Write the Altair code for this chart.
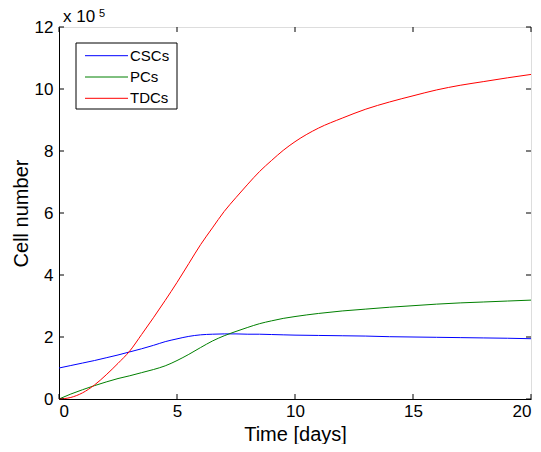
import altair as alt
import pandas as pd

days = [0, 0.5, 1, 1.5, 2, 2.5, 3, 3.5, 4, 4.5, 5, 5.5, 6, 6.5, 7, 7.5, 8,
        8.5, 9, 9.5, 10, 11, 12, 13, 14, 15, 16, 17, 18, 19, 20]
cscs = [1.00, 1.08, 1.16, 1.24, 1.33, 1.42, 1.52, 1.62, 1.73, 1.85, 1.94,
        2.02, 2.07, 2.09, 2.10, 2.10, 2.09, 2.09, 2.08, 2.07, 2.06, 2.05,
        2.04, 2.03, 2.01, 2.00, 1.99, 1.98, 1.97, 1.96, 1.945]
pcs = [0.00, 0.16, 0.30, 0.43, 0.55, 0.66, 0.75, 0.85, 0.95, 1.07, 1.24,
       1.44, 1.66, 1.87, 2.04, 2.18, 2.31, 2.43, 2.52, 2.60, 2.66, 2.76,
       2.84, 2.90, 2.96, 3.01, 3.06, 3.10, 3.13, 3.16, 3.19]
tdcs = [0.00, 0.05, 0.20, 0.45, 0.78, 1.15, 1.55, 2.08, 2.62, 3.18, 3.76,
        4.37, 4.98, 5.52, 6.05, 6.50, 6.93, 7.34, 7.69, 8.02, 8.30, 8.74,
        9.06, 9.35, 9.58, 9.78, 9.97, 10.12, 10.24, 10.36, 10.47]
series = ["CSCs", "PCs", "TDCs"]
colors = ["#0000ff", "#008000", "#ff0000"]
x_ticks = [0, 5, 10, 15, 20]
y_ticks = [0, 2, 4, 6, 8, 10, 12]

W, H = 472, 372
FONT = "Liberation Sans"

rows = []
for name, vals in zip(series, [cscs, pcs, tdcs]):
    for d, v in zip(days, vals):
        rows.append({"day": d, "value": v, "series": name})
df = pd.DataFrame(rows)

xs = alt.Scale(domain=[0, 20], nice=False, zero=False)
ys = alt.Scale(domain=[0, 12], nice=False, zero=False)

lines = alt.Chart(df).mark_line(strokeWidth=1, interpolate="monotone").encode(
    x=alt.X("day:Q", scale=xs,
            axis=alt.Axis(values=x_ticks, title="Time [days]", grid=False,
                          tickSize=0, labelFontSize=17, labelPadding=4,
                          titleFontSize=20, titleFontWeight="normal",
                          titleBaseline="alphabetic", titleY=41,
                          domainColor="black",
                          labelColor="black", titleColor="black",
                          labelFont=FONT, titleFont=FONT)),
    y=alt.Y("value:Q", scale=ys,
            axis=alt.Axis(values=y_ticks, title="Cell number", grid=False,
                          tickSize=0, labelFontSize=17, labelPadding=6,
                          titleFontSize=20, titleFontWeight="normal",
                          titlePadding=3, domainColor="black",
                          labelColor="black", titleColor="black",
                          labelFont=FONT, titleFont=FONT)),
    color=alt.Color("series:N", scale=alt.Scale(domain=series, range=colors),
                    legend=None),
)

xt = pd.DataFrame({"t": x_ticks})
yt = pd.DataFrame({"t": y_ticks})
tick_layers = [
    alt.Chart(xt).mark_rule(color="black", strokeWidth=1).encode(
        x=alt.X("t:Q", scale=xs), y=alt.value(H), y2=alt.value(H - 5)),
    alt.Chart(xt).mark_rule(color="black", strokeWidth=1).encode(
        x=alt.X("t:Q", scale=xs), y=alt.value(0), y2=alt.value(5)),
    alt.Chart(yt).mark_rule(color="black", strokeWidth=1).encode(
        y=alt.Y("t:Q", scale=ys), x=alt.value(0), x2=alt.value(5)),
    alt.Chart(yt).mark_rule(color="black", strokeWidth=1).encode(
        y=alt.Y("t:Q", scale=ys), x=alt.value(W), x2=alt.value(W - 5)),
]

# Legend (drawn manually, MATLAB style)
leg_df = pd.DataFrame({"series": series, "color": colors})
legend_box = alt.Chart(leg_df.head(1)).mark_rect(
    fill="white", stroke="black", strokeWidth=1).encode(
    x=alt.value(17), x2=alt.value(118), y=alt.value(16), y2=alt.value(82))
legend_layers = [legend_box]
for i, (name, col) in enumerate(zip(series, colors)):
    sub = leg_df[leg_df.series == name]
    yy = 28.7 + 21.3 * i
    legend_layers.append(alt.Chart(sub).mark_rule(color=col, strokeWidth=1).encode(
        x=alt.value(26), x2=alt.value(69), y=alt.value(yy)))
    legend_layers.append(alt.Chart(sub).mark_text(
        align="left", baseline="middle", font=FONT, fontSize=15,
        color="black").encode(
        x=alt.value(71), y=alt.value(yy), text="series:N"))

ann = pd.DataFrame({"a": ["x 10"], "b": ["5"]})
exp_layers = [
    alt.Chart(ann).mark_text(align="left", baseline="alphabetic", font=FONT,
                             fontSize=17, color="black").encode(
        x=alt.value(4), y=alt.value(-5), text="a:N"),
    alt.Chart(ann).mark_text(align="left", baseline="alphabetic", font=FONT,
                             fontSize=11, color="black").encode(
        x=alt.value(40), y=alt.value(-10.5), text="b:N"),
]

chart = alt.layer(lines, *tick_layers, *legend_layers, *exp_layers).properties(
    width=W, height=H,
    autosize=alt.AutoSizeParams(type="none"),
    padding={"left": 51, "top": 19, "right": 2, "bottom": 45},
).configure_view(stroke="black", strokeWidth=1).configure(background="white")

chart.save("out.html", embed_options={"renderer": "svg", "actions": False})
